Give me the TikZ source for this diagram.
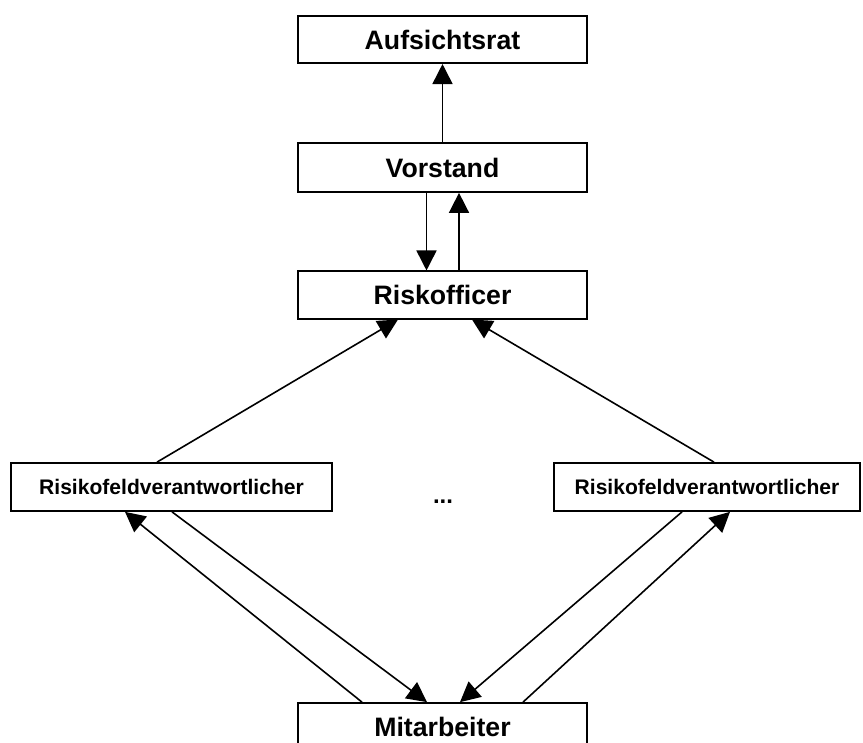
\documentclass[tikz,border=0pt]{standalone}
\usepackage{fontspec}
\setmainfont{Liberation Sans}
\usetikzlibrary{calc,arrows.meta}
\tikzset{
  orgbox/.style={draw,line width=1.3pt,inner sep=0pt,minimum width=216.75pt,minimum height=35.5pt,font=\fontsize{20}{24}\selectfont\bfseries},
  fieldbox/.style={draw,line width=1.3pt,inner sep=0pt,minimum height=36pt,font=\fontsize{15.8}{19}\selectfont\bfseries},
  link/.style={line width=1.2pt,-{Triangle[length=15pt,width=15pt]}}
}

\begin{document}
\begin{tikzpicture}[x=0.75pt,y=-0.75pt]
    \useasboundingbox (0,0) rectangle (863,742);
    \node[orgbox] (aufsichtsrat) at (442.5,39.5) {Aufsichtsrat};
    \node[orgbox,minimum height=36.75pt] (vorstand) at (442.5,167.5) {Vorstand};
    \node[orgbox] (riskofficer) at (442.5,295) {Riskofficer};
    \node[fieldbox,minimum width=240.75pt] (rfvleft) at (171.5,487) {Risikofeldverantwortlicher};
    \node[fieldbox,minimum width=229.5pt] (rfvright) at (707,487) {Risikofeldverantwortlicher};
    \node[anchor=base,font=\fontsize{18}{22}\selectfont\bfseries] (dots) at (443,503) {...};
    \node[orgbox,minimum height=36pt] (mitarbeiter) at (442.5,727) {Mitarbeiter};
    \draw[link] (vorstand.north) -- (aufsichtsrat.south);
    \draw[link] ($(vorstand.south)+(-16,0)$) -- ($(riskofficer.north)+(-16,0)$);
    \draw[link] ($(riskofficer.north)+(16.5,0)$) -- ($(vorstand.south)+(16.5,0)$);
    \draw[link] ($(rfvleft.north)+(-14.5,0)$) -- ($(riskofficer.south)+(-44.5,0)$);
    \draw[link] ($(rfvright.north)+(7,0)$) -- ($(riskofficer.south)+(29.5,0)$);
    \draw[link] ($(mitarbeiter.north)+(-80.5,0)$) -- ($(rfvleft.south)+(-46.5,0)$);
    \draw[link] ($(rfvleft.south)+(0.5,0)$) -- ($(mitarbeiter.north)+(-15.5,0)$);
    \draw[link] ($(rfvright.south)+(-25,0)$) -- ($(mitarbeiter.north)+(17.5,0)$);
    \draw[link] ($(mitarbeiter.north)+(80.5,0)$) -- ($(rfvright.south)+(23,0)$);
  \end{tikzpicture}
\end{document}
